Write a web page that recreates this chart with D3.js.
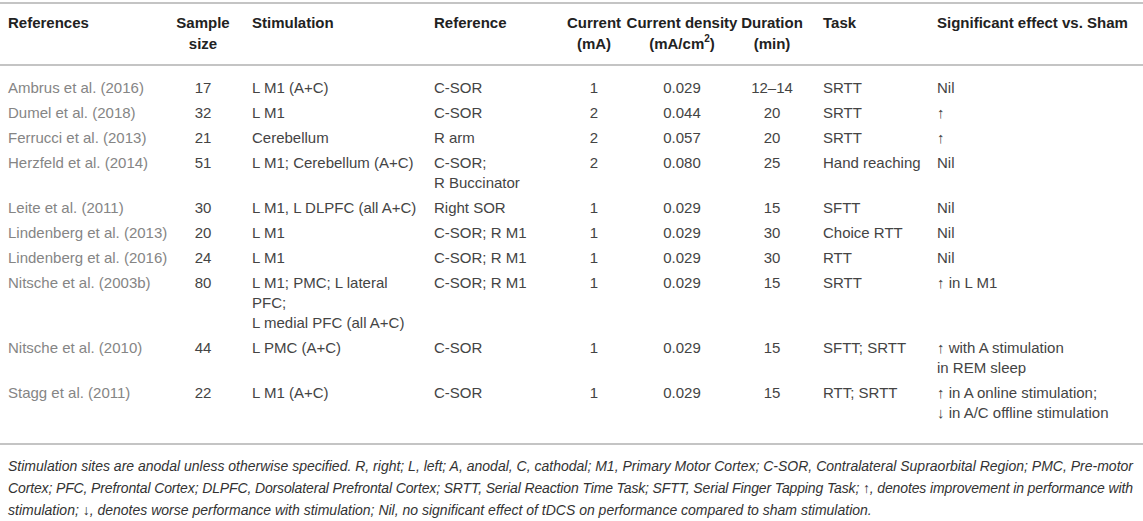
<!DOCTYPE html>
<html lang="en">
<head>
    <meta charset="UTF-8">
    <title>tDCS motor learning studies</title>
    <script src="https://d3js.org/d3.v7.min.js"></script>
    <style>
        body { margin: 0; background: #fff; }
        text { font-family: "Liberation Sans", Arial, sans-serif; }
        .head { font-weight: bold; fill: #222; font-size: 15px; }
        .cell { fill: #444; font-size: 15px; }
        .ref { fill: #858585; }
        .note { fill: #333; font-size: 14px; font-style: italic; }
        .rule { stroke: #c4c4c4; stroke-width: 2; }
    </style>
</head>
<body>
    <svg width="1143" height="521"></svg>
    <script>
        // table content
        const columns = ["References", "Sample\nsize", "Stimulation", "Reference", "Current\n(mA)",
                         "Current density\n(mA/cm²)", "Duration\n(min)", "Task", "Significant effect vs. Sham"];
        const references = ["Ambrus et al. (2016)", "Dumel et al. (2018)", "Ferrucci et al. (2013)",
                            "Herzfeld et al. (2014)", "Leite et al. (2011)", "Lindenberg et al. (2013)",
                            "Lindenberg et al. (2016)", "Nitsche et al. (2003b)", "Nitsche et al. (2010)",
                            "Stagg et al. (2011)"];
        const sampleSizes = [17, 32, 21, 51, 30, 20, 24, 80, 44, 22];
        const stimulation = ["L M1 (A+C)", "L M1", "Cerebellum", "L M1; Cerebellum (A+C)",
                             "L M1, L DLPFC (all A+C)", "L M1", "L M1",
                             "L M1; PMC; L lateral\nPFC;\nL medial PFC (all A+C)", "L PMC (A+C)", "L M1 (A+C)"];
        const refSites = ["C-SOR", "C-SOR", "R arm", "C-SOR;\nR Buccinator", "Right SOR", "C-SOR; R M1",
                          "C-SOR; R M1", "C-SOR; R M1", "C-SOR", "C-SOR"];
        const currents = [1, 2, 2, 2, 1, 1, 1, 1, 1, 1];
        const densities = ["0.029", "0.044", "0.057", "0.080", "0.029", "0.029", "0.029", "0.029", "0.029", "0.029"];
        const durations = ["12–14", "20", "20", "25", "15", "30", "30", "15", "15", "15"];
        const tasks = ["SRTT", "SRTT", "SRTT", "Hand reaching", "SFTT", "Choice RTT", "RTT", "SRTT",
                       "SFTT; SRTT", "RTT; SRTT"];
        const effects = ["Nil", "↑", "↑", "Nil", "Nil", "Nil", "Nil", "↑ in L M1",
                         "↑ with A stimulation\nin REM sleep", "↑ in A online stimulation;\n↓ in A/C offline stimulation"];
        const footnote = [
            "Stimulation sites are anodal unless otherwise specified. R, right; L, left; A, anodal, C, cathodal; M1, Primary Motor Cortex; C-SOR, Contralateral Supraorbital Region; PMC, Pre-motor",
            "Cortex; PFC, Prefrontal Cortex; DLPFC, Dorsolateral Prefrontal Cortex; SRTT, Serial Reaction Time Task; SFTT, Serial Finger Tapping Task; ↑, denotes improvement in performance with",
            "stimulation; ↓, denotes worse performance with stimulation; Nil, no significant effect of tDCS on performance compared to sham stimulation."
        ];

        const svg = d3.select("svg");
        const W = +svg.attr("width");

        const cols = [references, sampleSizes, stimulation, refSites, currents, densities, durations, tasks, effects];
        const anchors = ["start", "middle", "start", "start", "middle", "middle", "middle", "start", "start"];
        const x = d3.scaleOrdinal().domain(d3.range(columns.length))
            .range([8, 203, 252, 434, 594, 682, 772, 823, 937]);

        const lineH = 20, rowPad = 5;
        const lines = v => String(v).split("\n");
        const rowLines = references.map((r, i) => d3.max(cols, c => lines(c[i]).length));
        const rowTop = d3.cumsum([0].concat(rowLines.map(n => n * lineH + rowPad)));
        const y = d3.scaleLinear().domain([0, 1]).range([87, 88]);

        // rules
        const rules = [3, 65, 444];
        svg.selectAll("line.rule").data(rules).join("line")
            .attr("class", "rule").attr("x1", 0).attr("x2", W)
            .attr("y1", d => d).attr("y2", d => d);

        // header
        const hdr = svg.selectAll("text.head").data(columns).join("text")
            .attr("class", "head")
            .attr("text-anchor", (d, i) => anchors[i])
            .attr("dominant-baseline", "central");
        hdr.each(function(d, i) {
            const t = d3.select(this);
            lines(d).forEach((ln, k) => {
                const m = ln.match(/^(.*)²(.*)$/);
                const ts = t.append("tspan").attr("x", x(i)).attr("y", 22 + k * 21);
                if (m) {
                    ts.text(m[1]);
                    t.append("tspan").attr("dy", -5).attr("font-size", 10).text("2");
                    t.append("tspan").attr("dy", 5).text(m[2]);
                } else ts.text(ln);
            });
        });

        // body cells
        const cells = [];
        references.forEach((r, i) => cols.forEach((c, j) => cells.push({ row: i, col: j, v: c[i] })));
        svg.selectAll("text.cell").data(cells).join("text")
            .attr("class", d => d.col === 0 ? "cell ref" : "cell")
            .attr("text-anchor", d => anchors[d.col])
            .attr("dominant-baseline", "central")
            .each(function(d) {
                const t = d3.select(this);
                lines(d.v).forEach((ln, k) => {
                    t.append("tspan").attr("x", x(d.col))
                        .attr("y", y(rowTop[d.row]) + k * lineH).text(ln);
                });
            });

        // footnote
        svg.selectAll("text.note").data(footnote).join("text")
            .attr("class", "note")
            .attr("x", 8)
            .attr("y", (d, i) => 466 + i * 22)
            .attr("dominant-baseline", "central")
            .attr("textLength", (d, i) => i < 2 ? 1125 : null)
            .attr("lengthAdjust", "spacing")
            .text(d => d);
    </script>
</body>
</html>
